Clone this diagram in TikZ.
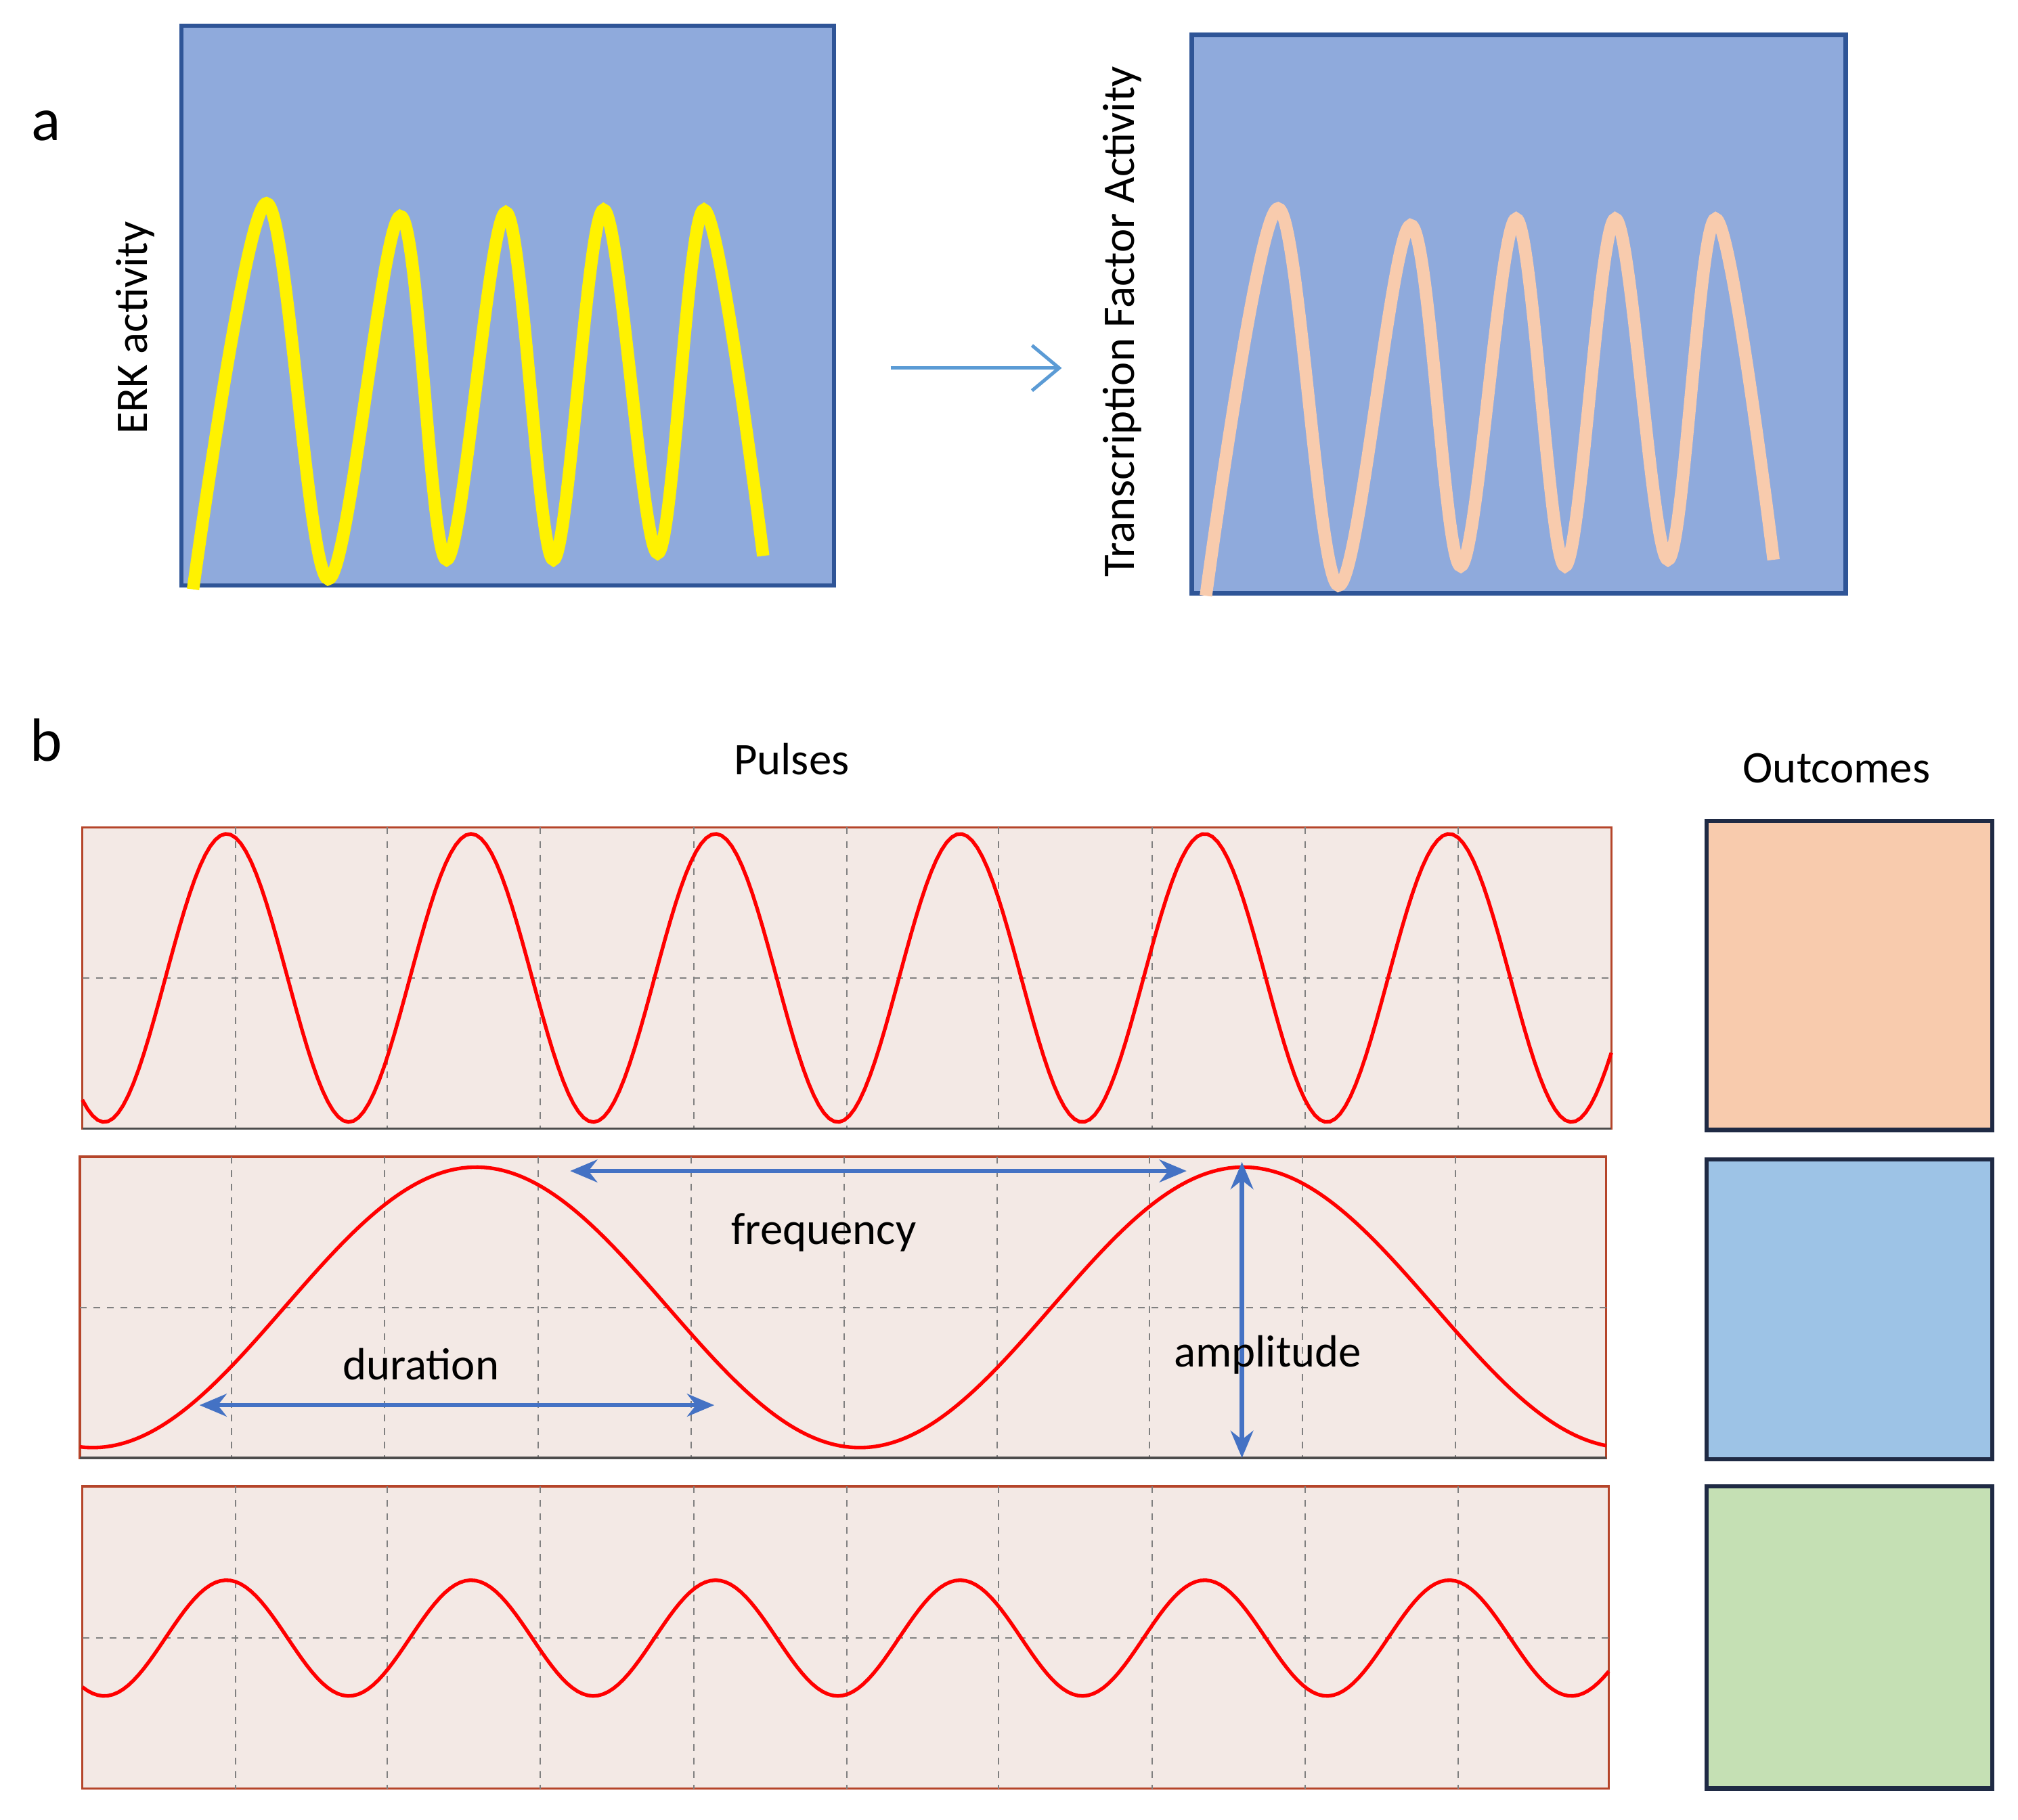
\documentclass[tikz,border=0pt]{standalone}
\usepackage{fontspec}
\setmainfont{Carlito}
\usetikzlibrary{arrows.meta}
\definecolor{boxblue}{HTML}{8FAADC}
\definecolor{boxedge}{HTML}{2F5597}
\definecolor{peach}{HTML}{F8CBAD}
\definecolor{arrblue}{HTML}{5B9BD5}
\definecolor{darrow}{HTML}{4472C4}
\definecolor{plotbg}{HTML}{F3E9E5}
\definecolor{plotedge}{HTML}{B5452A}
\definecolor{outedge}{HTML}{1F2A44}
\definecolor{obl}{HTML}{9DC3E6}
\definecolor{ogr}{HTML}{C5E0B4}
\begin{document}
\begin{tikzpicture}[x=0.02cm,y=-0.02cm,
  abox/.style={fill=boxblue,draw=boxedge,line width=2pt},
  wave/.style={line width=5.5pt,smooth,tension=0.55},
  lbl/.style={font=\fontsize{20}{24}\selectfont},
  big/.style={font=\fontsize{27}{32}\selectfont},
  pbox/.style={fill=plotbg,draw=plotedge,line width=1pt},
  grid/.style={gray,dashed,line width=0.6pt},
  red/.style={draw=red,line width=1.6pt},
  dim/.style={darrow,line width=2pt,{Stealth[length=12pt,width=10pt]}-{Stealth[length=12pt,width=10pt]}},
  obox/.style={draw=outedge,line width=2pt}]
\useasboundingbox (0,0) rectangle (1568,1414);
% panel a
\node[big] (la) at (36,98) {a};
\draw[abox] (141,20) rectangle (648,455);
\node[lbl,rotate=90] (erk) at (105,255) {ERK activity};
\draw[yellow,wave] plot coordinates {(150,458) (207,158) (255,450) (311,168) (347,435) (393,165) (430,435) (469,163) (511,430) (547,163) (593,432)};
\coordinate (a1) at (692,286); \coordinate (a2) at (825,286);
\draw[arrblue,line width=1.5pt,-{Straight Barb[length=12pt,width=20pt]}] (a1) -- (a2);
\draw[abox] (926,27) rectangle (1434,461);
\node[lbl,rotate=90] (tf) at (872,250) {Transcription Factor Activity};
\draw[peach,wave] plot coordinates {(937,463) (993,162) (1040,455) (1096,175) (1135,440) (1178,170) (1216,440) (1255,170) (1296,435) (1333,170) (1378,435)};
% panel b
\node[big] (lb) at (36,575) {b};
\node[lbl] (pul) at (615,590) {Pulses};
\node[lbl] (out) at (1427,597) {Outcomes};
% plot 1
\draw[pbox] (64,643) rectangle (1252,877);
\foreach \x in {183,301,420,539,658,776,895,1014,1133} \draw[grid] (\x,643) -- (\x,877);
\draw[grid] (64,760) -- (1252,760);
\draw[black!70,line width=1pt] (64,877) -- (1252,877);
\draw[red] plot[domain=64:1252,samples=300] (\x,{760-112*cos(1.8947*(\x-176))});
% plot 2
\draw[pbox] (62,899) rectangle (1248,1133);
\foreach \x in {180,299,418,537,656,775,893,1012,1131} \draw[grid] (\x,899) -- (\x,1133);
\draw[grid] (62,1016) -- (1248,1016);
\draw[black!70,line width=1pt] (62,1133) -- (1248,1133);
\draw[red] plot[domain=62:1248,samples=300] (\x,{1016-109*cos(0.60403*(\x-370))});
\coordinate (f1) at (443,910); \coordinate (f2) at (922,910);
\draw[dim] (f1) -- (f2);
\node[lbl] (fq) at (640,958) {frequency};
\coordinate (d1) at (155,1092); \coordinate (d2) at (555,1092);
\draw[dim] (d1) -- (d2);
\node[lbl] (du) at (327,1060) {duration};
\coordinate (m1) at (965,903); \coordinate (m2) at (965,1133);
\draw[dim] (m1) -- (m2);
\node[lbl] (am) at (985,1053) {amplitude};
% plot 3
\draw[pbox] (64,1155) rectangle (1250,1390);
\foreach \x in {183,301,420,539,658,776,895,1014,1133} \draw[grid] (\x,1155) -- (\x,1390);
\draw[grid] (64,1273) -- (1250,1273);
\draw[red] plot[domain=64:1250,samples=300] (\x,{1273-45*cos(1.8947*(\x-176))});
% outcomes
\draw[obox,fill=peach] (1326,638) rectangle (1548,878);
\draw[obox,fill=obl] (1326,901) rectangle (1548,1134);
\draw[obox,fill=ogr] (1326,1155) rectangle (1548,1390);
\end{tikzpicture}
\end{document}
